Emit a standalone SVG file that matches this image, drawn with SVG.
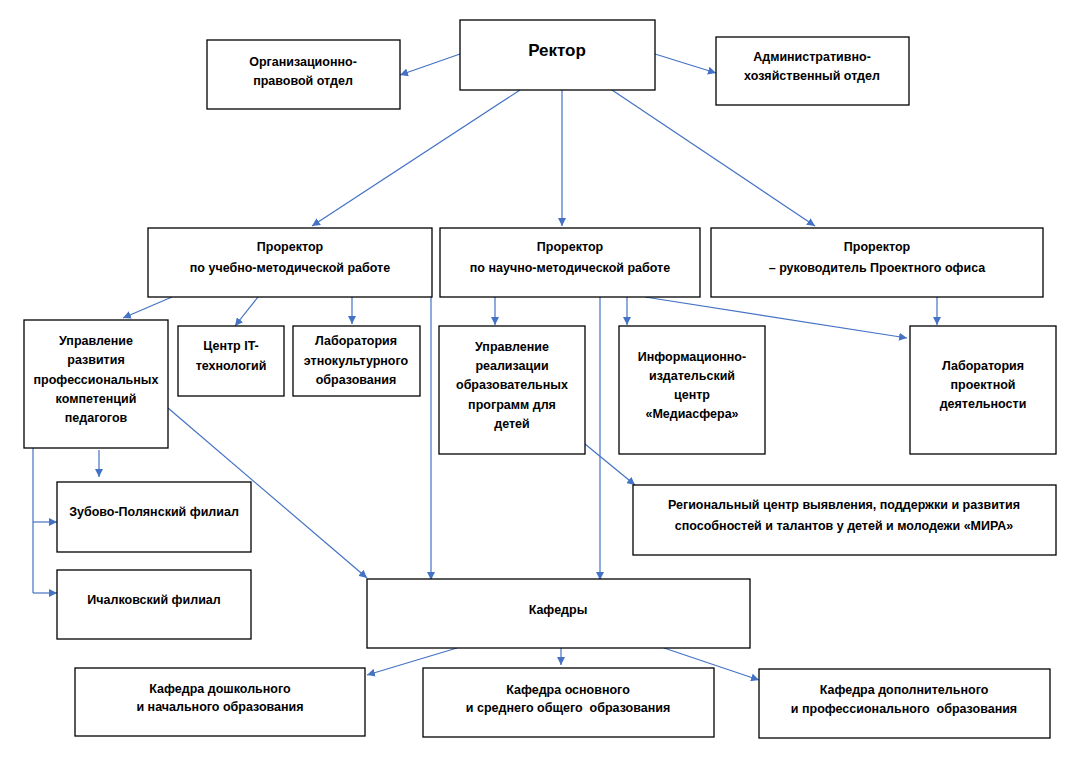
<svg xmlns="http://www.w3.org/2000/svg" width="1076" height="757" viewBox="0 0 1076 757">
<defs>
<marker id="arr" viewBox="0 0 10 10" refX="10" refY="5" markerWidth="8" markerHeight="8" markerUnits="userSpaceOnUse" orient="auto">
<path d="M0,0 L10,5 L0,10 z" fill="#4472C4"/>
</marker>
<style>
.box{fill:#fff;stroke:#000;stroke-width:1.3}
.t{font-family:"Liberation Sans",Arial,sans-serif;font-size:12.5px;font-weight:bold;text-anchor:middle;fill:#000;white-space:pre}
.big{font-size:17px}
.c{stroke:#4472C4;stroke-width:1.2;fill:none}
.a{marker-end:url(#arr)}
</style>
</defs>
<rect width="1076" height="757" fill="#fff"/>
<g id="connectors">
<line class="c a" x1="460" y1="54" x2="400" y2="75"/>
<line class="c a" x1="655" y1="54" x2="716" y2="73"/>
<line class="c a" x1="520" y1="90" x2="312" y2="226"/>
<line class="c a" x1="562" y1="90" x2="562" y2="226"/>
<line class="c a" x1="612" y1="90" x2="815" y2="226"/>
<line class="c a" x1="172" y1="297" x2="123" y2="318"/>
<line class="c a" x1="258" y1="297" x2="235" y2="326"/>
<line class="c a" x1="352" y1="297" x2="352" y2="324"/>
<line class="c a" x1="431" y1="297" x2="431" y2="580"/>
<line class="c a" x1="495" y1="297" x2="495" y2="325"/>
<line class="c a" x1="600" y1="297" x2="600" y2="580"/>
<line class="c a" x1="627" y1="297" x2="627" y2="325"/>
<line class="c a" x1="645" y1="297" x2="907" y2="338"/>
<line class="c a" x1="937" y1="297" x2="937" y2="325"/>
<line class="c a" x1="585" y1="444" x2="635" y2="485"/>
<line class="c a" x1="168" y1="408" x2="367" y2="578"/>
<line class="c a" x1="99" y1="450" x2="99" y2="477"/>
<polyline class="c" points="33,448 33,593"/>
<line class="c a" x1="33" y1="522" x2="57" y2="522"/>
<line class="c a" x1="33" y1="593" x2="57" y2="593"/>
<line class="c a" x1="457" y1="648" x2="367" y2="675"/>
<line class="c a" x1="561" y1="648" x2="561" y2="665"/>
<line class="c a" x1="664" y1="648" x2="759" y2="680"/>
</g>
<g id="rector"><rect class="box" x="460" y="20" width="195" height="70"/><text class="t big" x="557" y="56">Ректор</text></g>
<g id="org"><rect class="box" x="207" y="40" width="193" height="69"/><text class="t" x="303" y="66">Организационно-</text><text class="t" x="303" y="85">правовой отдел</text></g>
<g id="admin"><rect class="box" x="716" y="37" width="193" height="68"/><text class="t" x="812" y="61">Административно-</text><text class="t" x="812" y="80">хозяйственный отдел</text></g>
<g id="pro1"><rect class="box" x="148" y="228" width="284" height="69"/><text class="t" x="290" y="251">Проректор</text><text class="t" x="290" y="272">по учебно-методической работе</text></g>
<g id="pro2"><rect class="box" x="440" y="228" width="260" height="69"/><text class="t" x="570" y="251">Проректор</text><text class="t" x="570" y="272">по научно-методической работе</text></g>
<g id="pro3"><rect class="box" x="711" y="228" width="332" height="69"/><text class="t" x="877" y="251">Проректор</text><text class="t" x="877" y="272">– руководитель Проектного офиса</text></g>
<g id="upk"><rect class="box" x="24" y="320" width="144" height="128"/><text class="t" x="96" y="345">Управление</text><text class="t" x="96" y="364">развития</text><text class="t" x="96" y="384">профессиональных</text><text class="t" x="96" y="403">компетенций</text><text class="t" x="96" y="422">педагогов</text></g>
<g id="it"><rect class="box" x="178" y="326" width="106" height="70"/><text class="t" x="231" y="350">Центр IT-</text><text class="t" x="231" y="370">технологий</text></g>
<g id="etno"><rect class="box" x="293" y="326" width="127" height="70"/><text class="t" x="356" y="345">Лаборатория</text><text class="t" x="356" y="365">этнокультурного</text><text class="t" x="356" y="384">образования</text></g>
<g id="urop"><rect class="box" x="439" y="326" width="146" height="128"/><text class="t" x="512" y="351">Управление</text><text class="t" x="512" y="370">реализации</text><text class="t" x="512" y="389">образовательных</text><text class="t" x="512" y="409">программ для</text><text class="t" x="512" y="428">детей</text></g>
<g id="media"><rect class="box" x="619" y="326" width="146" height="128"/><text class="t" x="692" y="361">Информационно-</text><text class="t" x="692" y="380">издательский</text><text class="t" x="692" y="399">центр</text><text class="t" x="692" y="418">«Медиасфера»</text></g>
<g id="lpd"><rect class="box" x="910" y="326" width="146" height="128"/><text class="t" x="983" y="370">Лаборатория</text><text class="t" x="983" y="389">проектной</text><text class="t" x="983" y="408">деятельности</text></g>
<g id="mira"><rect class="box" x="633" y="485" width="423" height="70"/><text class="t" x="844" y="509">Региональный центр выявления, поддержки и развития</text><text class="t" x="844" y="530">способностей и талантов у детей и молодежи «МИРА»</text></g>
<g id="zub"><rect class="box" x="57" y="482" width="194" height="70"/><text class="t" x="154" y="516">Зубово-Полянский филиал</text></g>
<g id="ich"><rect class="box" x="57" y="570" width="194" height="69"/><text class="t" x="154" y="604">Ичалковский филиал</text></g>
<g id="kaf"><rect class="box" x="367" y="579" width="383" height="69"/><text class="t" x="558" y="614">Кафедры</text></g>
<g id="k1"><rect class="box" x="75" y="668" width="290" height="68"/><text class="t" x="220" y="693">Кафедра дошкольного</text><text class="t" x="220" y="711">и начального образования</text></g>
<g id="k2"><rect class="box" x="423" y="668" width="291" height="69"/><text class="t" x="568" y="694">Кафедра основного</text><text class="t" x="568" y="712" xml:space="preserve">и среднего общего  образования</text></g>
<g id="k3"><rect class="box" x="759" y="669" width="291" height="69"/><text class="t" x="904" y="694">Кафедра дополнительного</text><text class="t" x="904" y="713" xml:space="preserve">и профессионального  образования</text></g>
</svg>
